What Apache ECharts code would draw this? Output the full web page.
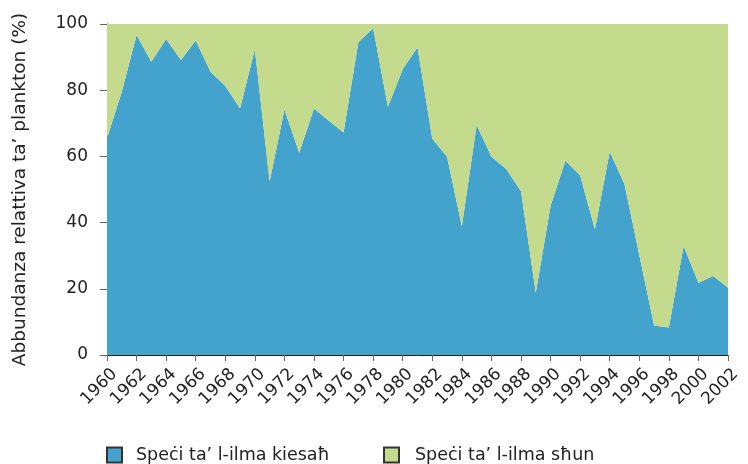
<!DOCTYPE html>
<html><head><meta charset="utf-8">
<script src="https://cdn.jsdelivr.net/npm/echarts@6/dist/echarts.min.js"></script>
<style>html,body{margin:0;padding:0;background:#fff}#c{width:748px;height:464px}</style>
</head><body><div id="c"></div>
<script>
const years = ["1960","1961","1962","1963","1964","1965","1966","1967","1968","1969","1970","1971","1972","1973","1974","1975","1976","1977","1978","1979","1980","1981","1982","1983","1984","1985","1986","1987","1988","1989","1990","1991","1992","1993","1994","1995","1996","1997","1998","1999","2000","2001","2002"];
const coldSpecies = [65.5,79.5,96.7,88.6,95.5,89.1,95.0,85.6,81.3,74.5,92.4,52.4,74.2,61.1,74.5,70.8,67.2,94.5,98.7,75.0,86.3,93.0,65.3,59.9,38.8,69.5,59.9,56.2,49.5,18.8,45.1,58.7,54.2,38.0,61.4,51.6,30.2,8.9,8.3,32.9,21.8,23.9,20.3];
const warmSpecies = [34.5,20.5,3.3,11.4,4.5,10.9,5.0,14.4,18.7,25.5,7.6,47.6,25.8,38.9,25.5,29.2,32.8,5.5,1.3,25.0,13.7,7.0,34.7,40.1,61.2,30.5,40.1,43.8,50.5,81.2,54.9,41.3,45.8,62.0,38.6,48.4,69.8,91.1,91.7,67.1,78.2,76.1,79.7];
const seriesNames = ["Speċi ta’ l-ilma kiesaħ","Speċi ta’ l-ilma sħun"];
const yTicks = [0,20,40,60,80,100];
const yTitle = "Abbundanza relattiva ta’ plankton (%)";

const font = "DejaVu Sans";
const legendText = {fontFamily:font,fontSize:17.5,color:'#222'};
const chart = echarts.init(document.getElementById('c'));
chart.setOption({
  animation:false,
  textStyle:{fontFamily:font},
  grid:{left:107,right:20,top:24,bottom:109,containLabel:false,outerBoundsMode:'none'},
  legend:[
    {top:446,left:106,padding:0,itemWidth:15,itemHeight:15,icon:'rect',
     textStyle:Object.assign({padding:[0,0,0,9]},legendText),data:[seriesNames[0]]},
    {top:446,left:383,padding:0,itemWidth:15,itemHeight:15,icon:'rect',
     textStyle:Object.assign({padding:[0,0,0,11]},legendText),data:[seriesNames[1]]}
  ],
  xAxis:{
    type:'category',data:years,boundaryGap:false,
    axisLine:{lineStyle:{color:'#222',width:1}},
    axisTick:{interval:1,length:6,lineStyle:{color:'#666'}},
    axisLabel:{interval:1,rotate:45,fontSize:17,color:'#222',fontFamily:font,margin:9,
               verticalAlign:'top',lineHeight:21,hideOverlap:false}
  },
  yAxis:{
    type:'value',min:yTicks[0],max:yTicks[yTicks.length-1],interval:20,
    name:yTitle,nameLocation:'middle',nameGap:77,
    nameTextStyle:{fontSize:18.5,color:'#222',fontFamily:font},
    axisLine:{show:true,lineStyle:{color:'#222',width:1}},
    axisTick:{show:true,length:7,lineStyle:{color:'#666'}},
    axisLabel:{fontSize:17,color:'#222',fontFamily:font,margin:19},
    splitLine:{show:false}
  },
  series:[
    {name:seriesNames[0],type:'line',stack:'t',data:coldSpecies,symbol:'none',
     lineStyle:{width:0},areaStyle:{color:'#43a3cc',opacity:1},
     itemStyle:{color:'#43a3cc',borderColor:'#333',borderWidth:1}},
    {name:seriesNames[1],type:'line',stack:'t',data:warmSpecies,symbol:'none',
     lineStyle:{width:0},areaStyle:{color:'#c4da8c',opacity:1},
     itemStyle:{color:'#c4da8c',borderColor:'#333',borderWidth:1}}
  ]
});
</script></body></html>
